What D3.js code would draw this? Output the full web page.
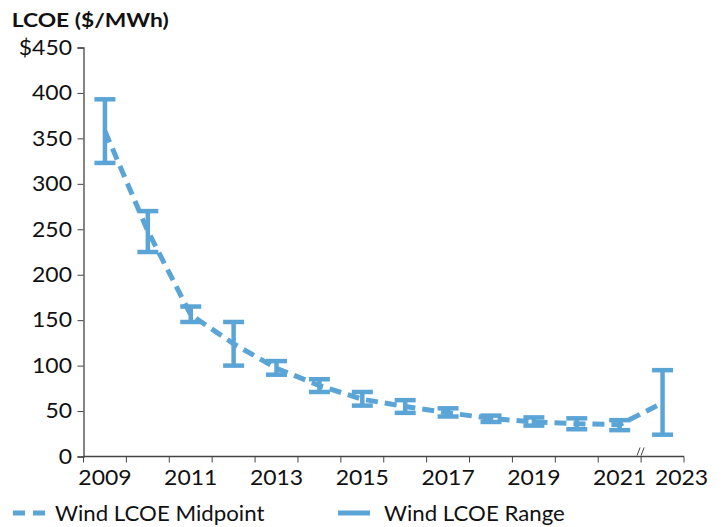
<!DOCTYPE html>
<html><head><meta charset="utf-8">
<script src="https://cdn.jsdelivr.net/npm/d3@7"></script>
<style>body{margin:0;background:#fff}svg{display:block}text{font-family:Lato,"Open Sans",sans-serif}</style>
</head><body>
<script>
const years = ["2009","2010","2011","2012","2013","2014","2015","2016","2017","2018","2019","2020","2021","2023"];
const midpoint = [358,248,156,124,97,78,63,55,48,42,38,36,35,59];
const rangeLow = [323,225,148,100,90,71,56,48,44,38,34,30,29,24];
const rangeHigh = [393,270,165,148,105,85,71,62,53,45,43,42,40,95];
const tickLabels = ["2009","2011","2013","2015","2017","2019","2021","2023"];
const yTicks = [0,50,100,150,200,250,300,350,400,450];

const W=725,H=527, color="#5ba4d6", axisColor="#444", textColor="#111";
const svg=d3.select("body").append("svg").attr("width",W).attr("height",H);
const x=d3.scaleBand().domain(years).range([83.5,684]);
const y=d3.scaleLinear().domain([0,450]).range([456.5,47.5]);

function stretchedText(sel, px, py, sx){
  return sel.append("text").attr("transform",`translate(${px},${py}) scale(${sx},1)`);
}

// title
stretchedText(svg,11.7,26.7,1.2).attr("font-size",19).attr("font-weight",700).attr("fill",textColor).text("LCOE ($/MWh)");

// y axis
const ya=svg.append("g").attr("transform","translate(83.5,0)")
  .call(d3.axisLeft(y).tickValues(yTicks).tickSize(6).tickFormat(""));
ya.select(".domain").attr("stroke",axisColor).attr("stroke-width",1.3);
ya.selectAll(".tick line").attr("stroke",axisColor);
yTicks.forEach(v=>{
  stretchedText(svg,72,y(v)+7.3,1.12).attr("font-size",20.5).attr("text-anchor","end").attr("fill",textColor)
    .text(v===450?"$450":String(v));
});

// x axis
const xa=svg.append("g").attr("transform","translate(0,456.5)");
xa.append("line").attr("x1",x.range()[0]).attr("x2",x.range()[1]).attr("stroke",axisColor).attr("stroke-width",1.3);
const edges=years.map(d=>x(d)).concat([x.range()[1]]);
xa.selectAll("line.t").data(edges).join("line").attr("class","t")
  .attr("x1",d=>d).attr("x2",d=>d).attr("y1",0).attr("y2",6).attr("stroke",axisColor);
tickLabels.forEach(d=>{
  const px = d==="2023" ? x(d)+x.bandwidth()-2.5 : x(d)+x.bandwidth()/2;
  stretchedText(svg,px,484.5,1.12).attr("font-size",20.5).attr("text-anchor","middle").attr("fill",textColor).text(d);
});
// break mark
const bx=x("2023");
[-2.5,1.5].forEach(o=>xa.append("line").attr("x1",bx+o-1.5).attr("x2",bx+o+1.5).attr("y1",-1).attr("y2",-9).attr("stroke",axisColor).attr("stroke-width",1));

// midpoint dashed line
const line=d3.line().x((d,i)=>x(years[i])+x.bandwidth()/2).y(d=>y(d));
svg.append("path").datum(midpoint).attr("d",line).attr("fill","none")
  .attr("stroke",color).attr("stroke-width",5).attr("stroke-dasharray","12,7");

// error bars
const g=svg.append("g").attr("stroke",color).attr("stroke-width",4.5);
years.forEach((yr,i)=>{
  const cx=x(yr)+x.bandwidth()/2;
  g.append("line").attr("x1",cx).attr("x2",cx).attr("y1",y(rangeHigh[i])).attr("y2",y(rangeLow[i]));
  g.append("line").attr("x1",cx-10.5).attr("x2",cx+10.5).attr("y1",y(rangeHigh[i])).attr("y2",y(rangeHigh[i]));
  g.append("line").attr("x1",cx-10.5).attr("x2",cx+10.5).attr("y1",y(rangeLow[i])).attr("y2",y(rangeLow[i]));
});

// legend
const lg=svg.append("g");
lg.append("line").attr("x1",13).attr("x2",45).attr("y1",513).attr("y2",513).attr("stroke",color).attr("stroke-width",5).attr("stroke-dasharray","12,8");
stretchedText(lg,55,520.5,1.06).attr("font-size",21).attr("fill",textColor).text("Wind LCOE Midpoint");
lg.append("line").attr("x1",338).attr("x2",370).attr("y1",513).attr("y2",513).attr("stroke",color).attr("stroke-width",5);
stretchedText(lg,384,520.5,1.06).attr("font-size",21).attr("fill",textColor).text("Wind LCOE Range");
</script>
</body></html>
